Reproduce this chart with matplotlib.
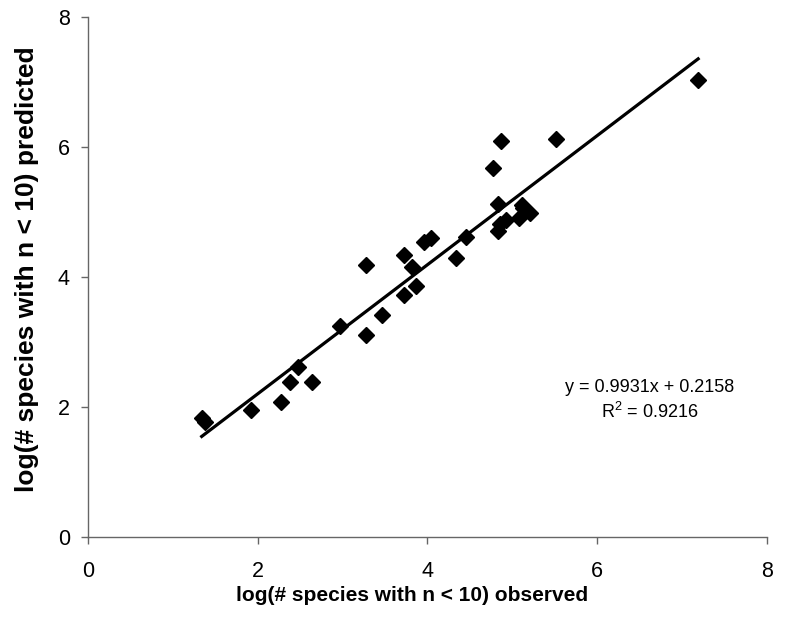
import numpy as np
import matplotlib.pyplot as plt

plt.rcParams['font.family'] = ['Liberation Sans', 'DejaVu Sans']

# observed vs predicted (log # species with n < 10)
observed = [1.34, 1.38, 1.92, 2.28, 2.38, 2.47, 2.64, 2.97, 3.28, 3.28,
            3.46, 3.72, 3.72, 3.82, 3.86, 3.96, 4.04, 4.34, 4.46, 4.77,
            4.83, 4.83, 4.85, 4.87, 4.92, 5.08, 5.11, 5.13, 5.21, 5.52, 7.19]
predicted = [1.83, 1.77, 1.96, 2.08, 2.38, 2.61, 2.38, 3.25, 3.11, 4.18,
             3.41, 3.73, 4.34, 4.15, 3.86, 4.54, 4.60, 4.29, 4.61, 5.67,
             5.13, 4.70, 4.81, 6.09, 4.88, 4.91, 5.10, 5.06, 4.99, 6.12, 7.03]

slope = 0.9931
intercept = 0.2158
r2 = 0.9216

fig = plt.figure(figsize=(7.89, 6.36), dpi=100)
ax = fig.add_axes([0.1115, 0.1557, 0.8605, 0.8176])

ax.plot(observed, predicted, linestyle='none', marker='D', markersize=7.8,
        color='black', zorder=3)

xfit = np.array([min(observed), max(observed)])
ax.plot(xfit, slope * xfit + intercept, color='black', linewidth=2.3, zorder=2)

ax.set_xlim(0, 8)
ax.set_ylim(0, 8)
ax.set_xticks([0, 2, 4, 6, 8])
ax.set_yticks([0, 2, 4, 6, 8])

for side in ['top', 'right']:
    ax.spines[side].set_visible(False)
for side in ['left', 'bottom']:
    ax.spines[side].set_color('#666666')
    ax.spines[side].set_linewidth(1.0)

ax.tick_params(axis='both', direction='out', length=5, width=1,
               color='#666666', labelsize=15.5)
ax.tick_params(axis='x', pad=12)
ax.tick_params(axis='y', pad=8)

ax.set_xlabel('log(# species with n < 10) observed', fontsize=15,
              fontweight='bold')
ax.xaxis.set_label_coords(0.477, -0.095)
ax.set_ylabel('log(# species with n < 10) predicted', fontsize=19,
              fontweight='bold')
ax.yaxis.set_label_coords(-0.072, 0.515)

ax.text(6.62, 2.1, f'y = {slope}x + {intercept}\n$\\mathregular{{R^2}}$ = {r2}',
        ha='center', va='center', fontsize=13, linespacing=1.4)

fig.savefig('out.png', dpi=100)
